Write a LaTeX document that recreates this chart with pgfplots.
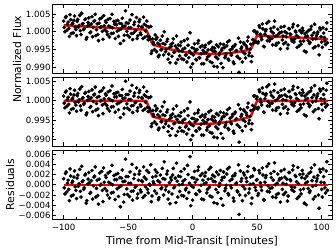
\documentclass[border=0pt]{standalone}
\usepackage{pgfplots}
\pgfplotsset{compat=1.18}
\usepackage{pgfplotstable}
\usepackage{fontspec}
\setmainfont{DejaVu Sans}

\pgfplotstableread{
t f1 f2 r
-100 1.0030 1.0012 0.0012
-99 1.0000 0.9982 -0.0018
-98 1.0043 1.0025 0.0025
-97 1.0021 1.0003 0.0003
-96 1.0009 0.9991 -0.0009
-95 1.0048 1.0031 0.0031
-94 0.9995 0.9978 -0.0022
-93 1.0024 1.0007 0.0007
-92 1.0032 1.0015 0.0015
-91 1.0013 0.9996 -0.0004
-90 0.9989 0.9973 -0.0027
-89 1.0035 1.0019 0.0019
-88 1.0018 1.0002 0.0002
-87 1.0003 0.9987 -0.0013
-86 1.0052 1.0036 0.0036
-85 1.0023 1.0008 0.0008
-84 1.0009 0.9994 -0.0006
-83 1.0036 1.0021 0.0021
-82 0.9984 0.9969 -0.0031
-81 1.0026 1.0011 0.0011
-80 1.0018 1.0004 0.0004
-79 0.9999 0.9985 -0.0015
-78 1.0042 1.0028 0.0028
-77 1.0012 0.9998 -0.0002
-76 1.0031 1.0017 0.0017
-75 0.9989 0.9976 -0.0024
-74 1.0022 1.0009 0.0009
-73 0.9975 0.9962 -0.0038
-72 1.0036 1.0023 0.0023
-71 1.0014 1.0001 0.0001
-70 1.0001 0.9989 -0.0011
-69 1.0045 1.0033 0.0033
-68 1.0005 0.9993 -0.0007
-67 1.0026 1.0014 0.0014
-66 0.9992 0.9980 -0.0020
-65 1.0016 1.0005 0.0005
-64 1.0037 1.0026 0.0026
-63 0.9995 0.9984 -0.0016
-62 1.0011 1.0000 0.0000
-61 1.0029 1.0018 0.0018
-60 0.9981 0.9971 -0.0029
-59 1.0020 1.0010 0.0010
-58 1.0032 1.0022 0.0022
-57 1.0005 0.9995 -0.0005
-56 0.9967 0.9957 -0.0043
-55 1.0022 1.0013 0.0013
-54 1.0015 1.0006 0.0006
-53 0.9990 0.9981 -0.0019
-52 1.0059 1.0050 0.0050
-51 1.0001 0.9992 -0.0008
-50 1.0024 1.0016 0.0016
-49 0.9985 0.9977 -0.0023
-48 1.0011 1.0003 0.0003
-47 1.0048 1.0040 0.0040
-46 0.9996 0.9988 -0.0012
-45 1.0027 1.0020 0.0020
-44 1.0004 0.9997 -0.0003
-43 0.9981 0.9974 -0.0026
-42 1.0016 1.0009 0.0009
-41 1.0034 1.0027 0.0027
-40 0.9992 0.9986 -0.0014
-39 1.0012 1.0006 0.0006
-38 1.0041 1.0035 0.0035
-37 0.9985 0.9979 -0.0021
-36 1.0017 1.0011 0.0011
-35 0.9988 0.9983 -0.0009
-34 1.0013 1.0008 0.0024
-33 0.9979 0.9974 -0.0001
-32 0.9939 0.9934 -0.0033
-31 0.9980 0.9975 0.0015
-30 0.9964 0.9960 0.0002
-29 0.9991 0.9987 0.0029
-28 0.9944 0.9940 -0.0017
-27 0.9968 0.9964 0.0008
-26 0.9934 0.9930 -0.0025
-25 0.9976 0.9973 0.0019
-24 0.9950 0.9947 -0.0006
-23 0.9967 0.9964 0.0012
-22 1.0000 0.9997 0.0045
-21 0.9944 0.9941 -0.0010
-20 0.9973 0.9971 0.0021
-19 0.9923 0.9921 -0.0028
-18 0.9955 0.9953 0.0004
-17 0.9964 0.9962 0.0014
-16 0.9931 0.9929 -0.0018
-15 0.9980 0.9979 0.0032
-14 0.9943 0.9942 -0.0004
-13 0.9912 0.9911 -0.0035
-12 0.9953 0.9952 0.0007
-11 0.9963 0.9962 0.0017
-10 0.9932 0.9931 -0.0013
-9 0.9971 0.9970 0.0026
-8 0.9945 0.9944 0.0001
-7 0.9922 0.9921 -0.0022
-6 0.9954 0.9953 0.0010
-5 0.9935 0.9935 -0.0007
-4 0.9980 0.9980 0.0038
-3 0.9927 0.9927 -0.0015
-2 0.9997 0.9997 0.0055
-1 0.9939 0.9939 -0.0002
0 0.9910 0.9911 -0.0030
1 0.9953 0.9954 0.0013
2 0.9945 0.9946 0.0005
3 0.9921 0.9922 -0.0019
4 0.9968 0.9969 0.0028
5 0.9928 0.9930 -0.0011
6 0.9957 0.9959 0.0018
7 0.9910 0.9912 -0.0028
8 0.9948 0.9950 0.0009
9 0.9941 0.9943 0.0002
10 0.9962 0.9965 0.0024
11 0.9922 0.9925 -0.0016
12 0.9949 0.9952 0.0011
13 0.9933 0.9936 -0.0005
14 0.9972 0.9975 0.0034
15 0.9913 0.9917 -0.0024
16 0.9945 0.9949 0.0007
17 0.9954 0.9958 0.0016
18 0.9929 0.9933 -0.0009
19 0.9901 0.9905 -0.0037
20 0.9958 0.9963 0.0020
21 0.9941 0.9946 0.0003
22 0.9911 0.9916 -0.0027
23 0.9953 0.9958 0.0014
24 0.9964 0.9969 0.0025
25 0.9927 0.9933 -0.0012
26 0.9938 0.9944 -0.0001
27 0.9971 0.9977 0.0031
28 0.9920 0.9926 -0.0020
29 0.9949 0.9955 0.0008
30 0.9934 0.9941 -0.0006
31 0.9958 0.9965 0.0017
32 0.9910 0.9917 -0.0032
33 0.9964 0.9971 0.0022
34 0.9947 0.9954 0.0004
35 0.9929 0.9937 -0.0014
36 0.9886 0.9894 -0.0058
37 0.9971 0.9979 0.0027
38 0.9957 0.9965 0.0012
39 0.9943 0.9951 -0.0003
40 0.9965 0.9974 0.0019
41 0.9926 0.9935 -0.0021
42 0.9954 0.9963 0.0006
43 0.9985 0.9994 0.0036
44 0.9941 0.9950 -0.0008
45 0.9965 0.9975 0.0015
46 0.9931 0.9941 -0.0026
47 0.9967 0.9977 0.0002
48 1.0003 1.0013 0.0029
49 0.9971 0.9981 -0.0011
50 0.9999 1.0010 0.0010
51 0.9972 0.9983 -0.0017
52 1.0012 1.0023 0.0023
53 0.9985 0.9996 -0.0004
54 1.0022 1.0033 0.0033
55 0.9959 0.9971 -0.0029
56 0.9993 1.0005 0.0005
57 1.0006 1.0018 0.0018
58 0.9975 0.9987 -0.0013
59 1.0029 1.0041 0.0041
60 0.9980 0.9993 -0.0007
61 1.0001 1.0014 0.0014
62 0.9963 0.9976 -0.0024
63 1.0013 1.0026 0.0026
64 0.9987 1.0000 0.0000
65 0.9967 0.9981 -0.0019
66 1.0007 1.0021 0.0021
67 0.9995 1.0009 0.0009
68 0.9952 0.9966 -0.0034
69 0.9999 1.0013 0.0013
70 0.9988 1.0003 0.0003
71 1.0015 1.0030 0.0030
72 0.9970 0.9985 -0.0015
73 0.9996 1.0011 0.0011
74 0.9963 0.9978 -0.0022
75 1.0008 1.0024 0.0024
76 0.9992 1.0008 0.0008
77 0.9974 0.9990 -0.0010
78 1.0021 1.0037 0.0037
79 0.9979 0.9995 -0.0005
80 0.9999 1.0016 0.0016
81 0.9956 0.9973 -0.0027
82 0.9985 1.0002 0.0002
83 1.0003 1.0020 0.0020
84 0.9965 0.9982 -0.0018
85 1.0010 1.0028 0.0028
86 0.9974 0.9992 -0.0008
87 0.9994 1.0012 0.0012
88 0.9943 0.9961 -0.0039
89 0.9988 1.0006 0.0006
90 1.0004 1.0022 0.0022
91 0.9970 0.9988 -0.0012
92 1.0015 1.0033 0.0033
93 0.9979 0.9997 -0.0003
94 0.9997 1.0015 0.0015
95 0.9958 0.9977 -0.0023
96 0.9988 1.0007 0.0007
97 0.9999 1.0018 0.0018
98 0.9935 0.9954 -0.0046
99 1.0006 1.0025 0.0025
100 0.9971 0.9991 -0.0009
101 1.0011 1.0031 0.0031
102 0.9984 1.0004 0.0004
103 0.9964 0.9984 -0.0016
104 1.0025 1.0045 0.0045
}\lca

\pgfplotstableread{
t f1 f2 r
-99.5 1.0012 0.9994 -0.0006
-98.5 1.0040 1.0022 0.0022
-97.5 1.0004 0.9986 -0.0014
-96.5 1.0027 1.0009 0.0009
-95.5 0.9987 0.9969 -0.0031
-94.5 1.0034 1.0017 0.0017
-93.5 1.0021 1.0004 0.0004
-92.5 0.9997 0.9980 -0.0020
-91.5 1.0044 1.0027 0.0027
-90.5 1.0006 0.9989 -0.0011
-89.5 1.0029 1.0013 0.0013
-88.5 1.0013 0.9997 -0.0003
-87.5 1.0046 1.0030 0.0030
-86.5 0.9992 0.9976 -0.0024
-85.5 1.0022 1.0006 0.0006
-84.5 1.0006 0.9991 -0.0009
-83.5 1.0034 1.0019 0.0019
-82.5 0.9979 0.9964 -0.0036
-81.5 1.0016 1.0001 0.0001
-80.5 1.0039 1.0024 0.0024
-79.5 0.9997 0.9983 -0.0017
-78.5 1.0022 1.0008 0.0008
-77.5 0.9986 0.9972 -0.0028
-76.5 1.0029 1.0015 0.0015
-75.5 1.0049 1.0035 0.0035
-74.5 1.0006 0.9993 -0.0007
-73.5 0.9992 0.9979 -0.0021
-72.5 1.0024 1.0011 0.0011
-71.5 1.0012 0.9999 -0.0001
-70.5 1.0039 1.0026 0.0026
-69.5 0.9979 0.9967 -0.0033
-68.5 1.0017 1.0005 0.0005
-67.5 1.0030 1.0018 0.0018
-66.5 1.0000 0.9988 -0.0012
-65.5 1.0035 1.0023 0.0023
-64.5 0.9985 0.9974 -0.0026
-63.5 1.0013 1.0002 0.0002
-62.5 1.0049 1.0038 0.0038
-61.5 0.9996 0.9985 -0.0015
-60.5 1.0021 1.0010 0.0010
-59.5 1.0030 1.0020 0.0020
-58.5 1.0002 0.9992 -0.0008
-57.5 0.9987 0.9977 -0.0023
-56.5 1.0024 1.0014 0.0014
-55.5 1.0008 0.9998 -0.0002
-54.5 1.0038 1.0029 0.0029
-53.5 0.9975 0.9966 -0.0034
-52.5 1.0016 1.0007 0.0007
-51.5 1.0025 1.0016 0.0016
-50.5 0.9990 0.9981 -0.0019
-49.5 1.0011 1.0003 0.0003
-48.5 1.0033 1.0025 0.0025
-47.5 0.9995 0.9987 -0.0013
-46.5 0.9978 0.9970 -0.0030
-45.5 1.0020 1.0012 0.0012
-44.5 1.0002 0.9995 -0.0005
-43.5 1.0040 1.0033 0.0033
-42.5 0.9989 0.9982 -0.0018
-41.5 1.0028 1.0021 0.0021
-40.5 0.9997 0.9990 -0.0010
-39.5 1.0014 1.0008 0.0008
-38.5 0.9981 0.9975 -0.0025
-37.5 1.0021 1.0015 0.0015
-36.5 1.0002 0.9996 -0.0004
-35.5 1.0030 1.0024 0.0028
-34.5 0.9977 0.9972 -0.0016
-33.5 0.9986 0.9981 0.0001
-32.5 1.0015 1.0010 0.0039
-31.5 0.9946 0.9941 -0.0022
-30.5 0.9970 0.9965 0.0006
-29.5 0.9950 0.9946 -0.0012
-28.5 0.9979 0.9975 0.0017
-27.5 0.9984 0.9980 0.0024
-26.5 0.9930 0.9926 -0.0029
-25.5 0.9963 0.9959 0.0005
-24.5 0.9949 0.9946 -0.0008
-23.5 0.9988 0.9985 0.0032
-22.5 0.9935 0.9932 -0.0020
-21.5 0.9965 0.9962 0.0011
-20.5 0.9950 0.9947 -0.0003
-19.5 0.9979 0.9977 0.0027
-18.5 0.9937 0.9935 -0.0014
-17.5 0.9913 0.9911 -0.0037
-16.5 0.9959 0.9957 0.0009
-15.5 0.9968 0.9966 0.0019
-14.5 0.9942 0.9941 -0.0006
-13.5 0.9960 0.9959 0.0013
-12.5 0.9988 0.9987 0.0042
-11.5 0.9922 0.9921 -0.0024
-10.5 0.9946 0.9945 0.0000
-9.5 0.9961 0.9960 0.0016
-8.5 0.9924 0.9923 -0.0021
-7.5 0.9951 0.9950 0.0007
-6.5 0.9975 0.9974 0.0031
-5.5 0.9934 0.9933 -0.0010
-4.5 0.9915 0.9915 -0.0027
-3.5 0.9962 0.9962 0.0020
-2.5 0.9945 0.9945 0.0003
-1.5 0.9900 0.9900 -0.0041
-0.5 0.9955 0.9955 0.0014
0.5 0.9935 0.9936 -0.0005
1.5 0.9966 0.9967 0.0026
2.5 0.9922 0.9923 -0.0018
3.5 0.9950 0.9951 0.0010
4.5 0.9975 0.9976 0.0035
5.5 0.9926 0.9928 -0.0013
6.5 0.9938 0.9940 -0.0001
7.5 0.9961 0.9963 0.0022
8.5 0.9910 0.9912 -0.0029
9.5 0.9956 0.9958 0.0017
10.5 0.9942 0.9945 0.0004
11.5 0.9929 0.9932 -0.0009
12.5 0.9968 0.9971 0.0030
13.5 0.9916 0.9919 -0.0022
14.5 0.9950 0.9953 0.0012
15.5 0.9956 0.9960 0.0019
16.5 0.9903 0.9907 -0.0035
17.5 0.9944 0.9948 0.0006
18.5 0.9963 0.9967 0.0025
19.5 0.9924 0.9928 -0.0015
20.5 0.9935 0.9940 -0.0003
21.5 0.9966 0.9971 0.0028
22.5 0.9948 0.9953 0.0009
23.5 0.9899 0.9904 -0.0040
24.5 0.9955 0.9960 0.0015
25.5 0.9932 0.9938 -0.0007
26.5 0.9960 0.9966 0.0021
27.5 0.9923 0.9929 -0.0017
28.5 0.9975 0.9981 0.0034
29.5 0.9939 0.9945 -0.0002
30.5 0.9952 0.9959 0.0011
31.5 0.9915 0.9922 -0.0026
32.5 0.9960 0.9967 0.0018
33.5 0.9945 0.9952 0.0002
34.5 0.9931 0.9938 -0.0012
35.5 0.9982 0.9990 0.0039
36.5 0.9924 0.9932 -0.0020
37.5 0.9952 0.9960 0.0007
38.5 0.9915 0.9923 -0.0031
39.5 0.9969 0.9977 0.0023
40.5 0.9938 0.9947 -0.0008
41.5 0.9960 0.9969 0.0013
42.5 0.9974 0.9983 0.0026
43.5 0.9933 0.9942 -0.0016
44.5 0.9951 0.9960 0.0001
45.5 0.9916 0.9926 -0.0037
46.5 0.9978 0.9988 0.0017
47.5 1.0002 1.0012 0.0032
48.5 0.9973 0.9983 -0.0005
49.5 0.9995 1.0005 0.0009
50.5 0.9968 0.9979 -0.0021
51.5 1.0017 1.0028 0.0028
52.5 0.9993 1.0004 0.0004
53.5 0.9978 0.9989 -0.0011
54.5 1.0008 1.0019 0.0019
55.5 0.9958 0.9970 -0.0030
56.5 1.0002 1.0014 0.0014
57.5 1.0024 1.0036 0.0036
58.5 0.9986 0.9998 -0.0002
59.5 0.9974 0.9986 -0.0014
60.5 1.0009 1.0022 0.0022
61.5 0.9981 0.9994 -0.0006
62.5 0.9996 1.0009 0.0009
63.5 1.0030 1.0043 0.0043
64.5 0.9962 0.9975 -0.0025
65.5 0.9989 1.0003 0.0003
66.5 0.9969 0.9983 -0.0017
67.5 0.9998 1.0012 0.0012
68.5 1.0013 1.0027 0.0027
69.5 0.9977 0.9991 -0.0009
70.5 0.9966 0.9981 -0.0019
71.5 1.0000 1.0015 0.0015
72.5 0.9986 1.0001 0.0001
73.5 0.9953 0.9968 -0.0032
74.5 1.0009 1.0024 0.0024
75.5 0.9994 1.0010 0.0010
76.5 0.9980 0.9996 -0.0004
77.5 1.0013 1.0029 0.0029
78.5 0.9971 0.9987 -0.0013
79.5 1.0002 1.0018 0.0018
80.5 0.9989 1.0006 0.0006
81.5 1.0017 1.0034 0.0034
82.5 0.9960 0.9977 -0.0023
83.5 0.9973 0.9990 -0.0010
84.5 0.9997 1.0014 0.0014
85.5 1.0003 1.0021 0.0021
86.5 0.9946 0.9964 -0.0036
87.5 0.9985 1.0003 0.0003
88.5 0.9999 1.0017 0.0017
89.5 0.9975 0.9993 -0.0007
90.5 0.9967 0.9985 -0.0015
91.5 1.0007 1.0025 0.0025
92.5 0.9990 1.0008 0.0008
93.5 0.9954 0.9972 -0.0028
94.5 1.0021 1.0039 0.0039
95.5 0.9980 0.9999 -0.0001
96.5 0.9993 1.0012 0.0012
97.5 0.9961 0.9980 -0.0020
98.5 1.0011 1.0030 0.0030
99.5 0.9986 1.0005 0.0005
100.5 0.9956 0.9976 -0.0024
101.5 0.9996 1.0016 0.0016
102.5 0.9974 0.9994 -0.0006
103.5 1.0007 1.0027 0.0027
104.5 0.9969 0.9989 -0.0011
}\lcb

\pgfplotsset{
  panel/.style={
    scale only axis, width=280pt, height=69pt,
    xmin=-109, xmax=108, anchor=north west,
    xtick={-100,-50,0,50,100},
    minor x tick num=4,
    tick align=inside,
    major tick length=4pt, minor tick length=2pt,
    every tick/.append style={black, line width=0.6pt},
    axis line style={line width=0.8pt},
    tick label style={font=\fontsize{8.6}{10}\selectfont},
    label style={font=\fontsize{10.8}{13}\selectfont},
    yticklabel style={inner sep=0pt, xshift=-1.3pt},
    xticklabel style={inner sep=0pt, yshift=-5pt},
    scaled y ticks=false,
  },
  dots/.style={only marks, mark=*, mark size=1.65pt, black},
  model/.style={red, line width=2.5pt, no marks},
}

\begin{document}
\begin{tikzpicture}
\useasboundingbox (0,0) rectangle (336pt,250pt);

\begin{axis}[panel, at={(52pt,246pt)},
  ymin=0.9884, ymax=1.0078,
  ytick={0.990,0.995,1.000,1.005}, yticklabels={0.990,0.995,1.000,1.005},
  minor y tick num=4, xticklabels={},
  ylabel={Normalized Flux},
  ylabel style={at={(axis description cs:-0.125,0.2)}, anchor=center, inner sep=0pt}]
\addplot[dots] table[x=t, y=f1] {\lca};
\addplot[dots] table[x=t, y=f1] {\lcb};
\addplot[model] coordinates {
(-100,1.00180) (-36,1.000584) (-35,0.999765) (-34,0.998946) (-33,0.998027)
(-32,0.997208) (-31,0.996489) (-30,0.99632) (-25,0.995771) (-20,0.995288)
(-15,0.994871) (-10,0.99452) (-5,0.994234) (0,0.994014) (5,0.99386)
(10,0.993772) (15,0.993749) (20,0.993792) (25,0.993901) (30,0.994076)
(35,0.994316) (40,0.994622) (44,0.994914) (45,0.995045) (46,0.995726)
(47,0.996507) (48,0.997388) (49,0.998169) (50,0.99895) (105,0.997905)};
\end{axis}

\begin{axis}[panel, at={(52pt,173pt)},
  ymin=0.9884, ymax=1.0061,
  ytick={0.990,0.995,1.000,1.005}, yticklabels={0.990,0.995,1.000,1.005},
  minor y tick num=4, xticklabels={}]
\addplot[dots] table[x=t, y=f2] {\lca};
\addplot[dots] table[x=t, y=f2] {\lcb};
\addplot[model] coordinates {
(-100,1.0) (-36,1.0) (-35,0.9992) (-34,0.9984) (-33,0.9975) (-32,0.9967)
(-31,0.9960) (-30,0.99585) (-25,0.99540) (-20,0.99501) (-15,0.99469)
(-10,0.99443) (-5,0.99424) (0,0.99411) (7,0.99405) (14,0.99411)
(19,0.99424) (24,0.99443) (29,0.99469) (34,0.99501) (39,0.99540)
(44,0.99585) (45,0.9960) (46,0.9967) (47,0.9975) (48,0.9984) (49,0.9992)
(50,1.0) (105,1.0)};
\end{axis}

\begin{axis}[panel, at={(52pt,100pt)},
  ymin=-0.0067, ymax=0.0068,
  ytick={-0.006,-0.004,-0.002,0,0.002,0.004,0.006},
  yticklabels={−0.006,−0.004,−0.002,0.000,0.002,0.004,0.006},
  minor y tick num=1,
  xticklabels={−100,−50,0,50,100},
  ylabel={Residuals},
  ylabel style={at={(axis description cs:-0.15,0.5)}, anchor=center, inner sep=0pt},
  xlabel={Time from Mid-Transit [minutes]},
  xlabel style={at={(axis description cs:0.5,-0.32)}, anchor=center, inner sep=0pt}]
\addplot[dots] table[x=t, y=r] {\lca};
\addplot[dots] table[x=t, y=r] {\lcb};
\addplot[model] coordinates {(-100,0) (105,0)};
\end{axis}
\end{tikzpicture}
\end{document}
